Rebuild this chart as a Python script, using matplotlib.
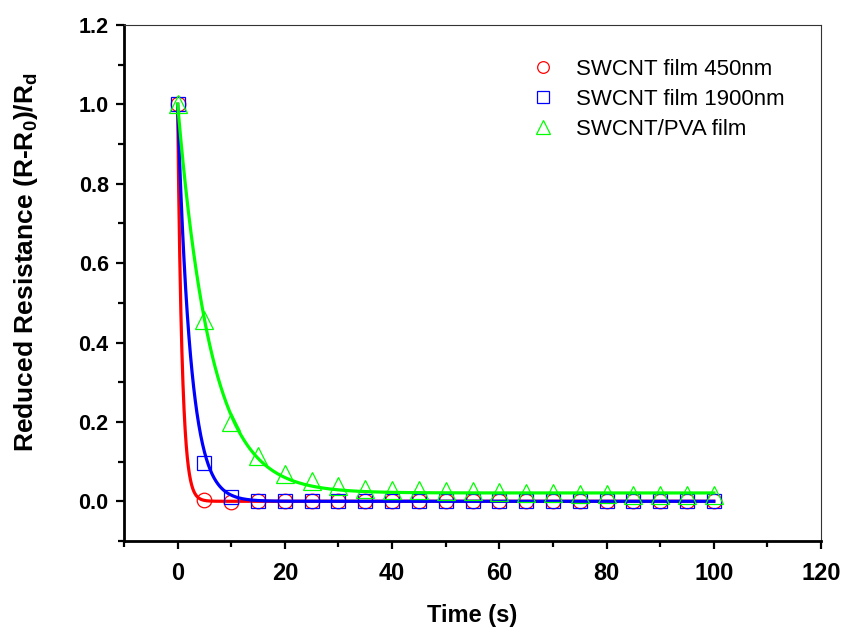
import numpy as np
import matplotlib
matplotlib.use("Agg")
import matplotlib.pyplot as plt
from matplotlib.ticker import MultipleLocator

plt.rcParams['font.family'] = ['Liberation Sans', 'DejaVu Sans']
plt.rcParams['mathtext.fontset'] = 'custom'
plt.rcParams['mathtext.rm'] = 'Liberation Sans:bold'
plt.rcParams['mathtext.bf'] = 'Liberation Sans:bold'
plt.rcParams['mathtext.it'] = 'Liberation Sans:bold'
plt.rcParams['mathtext.default'] = 'rm'

# Measured reduced resistance vs. time
time_s = [0, 5, 10, 15, 20, 25, 30, 35, 40, 45, 50,
          55, 60, 65, 70, 75, 80, 85, 90, 95, 100]
film_450nm = [1.0, 0.002, -0.001, 0.0, 0.0, 0.0, 0.0, 0.0, 0.0, 0.0, 0.0,
              0.0, 0.0, 0.0, 0.0, 0.0, 0.0, 0.0, 0.0, 0.0, 0.0]
film_1900nm = [1.0, 0.097, 0.011, 0.0, 0.0, 0.0, 0.0, 0.0, 0.0, 0.0, 0.0,
               0.0, 0.0, 0.0, 0.0, 0.0, 0.0, 0.0, 0.0, 0.0, 0.0]
film_pva = [1.0, 0.458, 0.199, 0.115, 0.070, 0.050, 0.038, 0.031, 0.028, 0.028, 0.027,
            0.025, 0.024, 0.022, 0.021, 0.019, 0.018, 0.017, 0.016, 0.015, 0.015]

labels = ['SWCNT film 450nm', 'SWCNT film 1900nm', 'SWCNT/PVA film']
colors = ['#FF0000', '#0000FF', '#00FF00']
markers = ['o', 's', '^']
marker_sizes = [10.5, 10, 13]

# Single-exponential decay fits: y = y0 + A * exp(-t / tau)
fit_A = [1.0, 1.0, 0.98]
fit_tau = [0.82, 2.4, 6.2]
fit_y0 = [0.0, 0.0, 0.021]

fig = plt.figure(figsize=(8.43, 6.30), dpi=100)
ax = fig.add_axes([0.1471, 0.1413, 0.8268, 0.8190])

series = [film_450nm, film_1900nm, film_pva]
t_fit = np.linspace(0, 100, 2001)
for i, ys in enumerate(series):
    ax.plot(time_s, ys, linestyle='none', marker=markers[i], ms=marker_sizes[i],
            mfc='none', mec=colors[i], mew=0.9, label=labels[i], zorder=2 + i)
    y_fit = fit_y0[i] + fit_A[i] * np.exp(-t_fit / fit_tau[i])
    ax.plot(t_fit, y_fit, color=colors[i], lw=2.3, zorder=2 + i)

ax.set_xlim(-10, 120)
ax.set_ylim(-0.1, 1.2)
ax.xaxis.set_major_locator(MultipleLocator(20))
ax.xaxis.set_minor_locator(MultipleLocator(10))
ax.yaxis.set_minor_locator(MultipleLocator(0.1))
ax.set_yticks([0.0, 0.2, 0.4, 0.6, 0.8, 1.0, 1.2])
ax.set_yticklabels(['0.0', '0.2', '0.4', '0.6', '0.8', '1.0', '1.2'])

for side in ['left', 'bottom']:
    ax.spines[side].set_linewidth(2.0)
    ax.spines[side].set_color('black')
for side in ['top', 'right']:
    ax.spines[side].set_linewidth(0.8)
    ax.spines[side].set_color('#333333')

ax.tick_params(axis='both', which='major', direction='out', length=6, width=1.6,
               top=False, right=False)
ax.tick_params(axis='both', which='minor', direction='out', length=4, width=1.6,
               top=False, right=False)
ax.tick_params(axis='x', which='major', labelsize=17, pad=9)
ax.tick_params(axis='y', which='major', labelsize=15.5, pad=5)
for lab in ax.get_xticklabels() + ax.get_yticklabels():
    lab.set_fontweight('bold')

ax.set_xlabel('Time (s)', fontsize=17, fontweight='bold', labelpad=14)
ax.set_ylabel(r'Reduced Resistance (R-R$_{0}$)/R$_{d}$', fontsize=19,
              fontweight='bold')
ax.yaxis.set_label_coords(-0.121, 0.54)

leg = ax.legend(loc='upper left', bbox_to_anchor=(0.585, 0.935), frameon=False,
                fontsize=16, handlelength=1.0, handletextpad=1.0,
                labelspacing=0.42, borderpad=0, borderaxespad=0)
for h in leg.legend_handles:
    h.set_markersize(h.get_markersize() * 0.8)

fig.savefig('out.png', dpi=100)
